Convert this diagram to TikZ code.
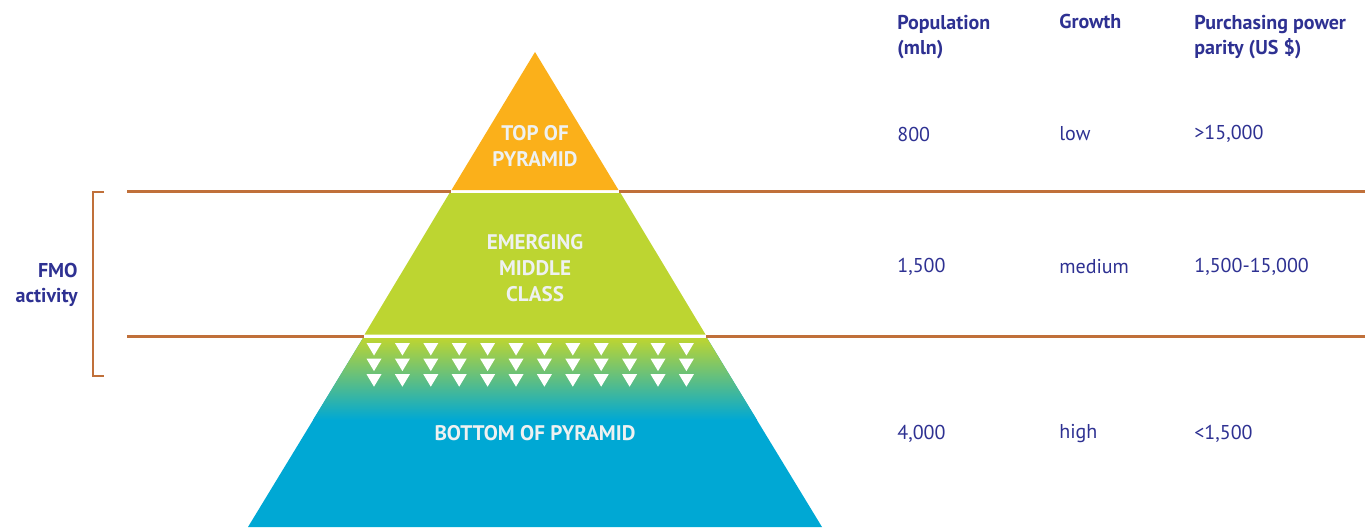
\documentclass[tikz,border=0pt]{standalone}
\usepackage{fontspec}
\setmainfont{PT Sans}
\definecolor{navy}{HTML}{2E3192}
\definecolor{rust}{HTML}{C0703A}
\definecolor{topcol}{HTML}{FBB01A}
\definecolor{midcol}{HTML}{BDD531}
\definecolor{tealcol}{HTML}{00B2A9}
\definecolor{botcol}{HTML}{00A8D4}
\definecolor{paleword}{HTML}{EEF1F1}
\tikzset{
  hdr/.style={anchor=west,align=left,text=navy,font=\fontsize{11.4}{14.2}\selectfont\bfseries,inner sep=0pt},
  val/.style={anchor=west,text=navy,font=\fontsize{11.4}{14}\selectfont,inner sep=0pt},
  lvl/.style={align=center,text=paleword,font=\fontsize{12}{14.6}\selectfont\bfseries,inner sep=0pt},
  band/.style={rust,line width=1.3pt}
}
\begin{document}
\begin{tikzpicture}[x=0.02cm,y=-0.02cm]
        \useasboundingbox (0,0) rectangle (1368,527);
        % pyramid slices
        \fill[topcol] (535,52) -- (451.5,190) -- (618.5,190) -- cycle;
        \fill[midcol] (449.5,193) -- (620.5,193) -- (705.5,334.5) -- (364.5,334.5) -- cycle;
        \fill[botcol] (363,338) -- (707,338) -- (822,527) -- (248,527) -- cycle;
        \shade[top color=midcol,middle color=tealcol,bottom color=botcol]
            (363,338) -- (707,338) -- (757,420) -- (313,420) -- cycle;
        \foreach \i in {0,...,11}
          \foreach \j in {0,1,2}
            \fill[white] (366.5+28.4*\i,343+15.6*\j) -- ++(15,0) -- ++(-7.5,12.5) -- cycle;
        % band lines and bracket
        \coordinate (ua) at (127,191.5);
        \coordinate (ub) at (451,191.5);
        \coordinate (uc) at (619,191.5);
        \coordinate (ud) at (1365,191.5);
        \coordinate (la) at (127,336.5);
        \coordinate (lb) at (364,336.5);
        \coordinate (lc) at (706,336.5);
        \coordinate (ld) at (1365,336.5);
        \draw[band] (ua) -- (ub) (uc) -- (ud) (la) -- (lb) (lc) -- (ld);
        \draw[band] (104,192) -- (93,192) -- (93,376) -- (104,376);
        \node[align=right,anchor=east,text=navy,font=\fontsize{11.4}{14.2}\selectfont\bfseries,inner sep=0pt] (fmo) at (78,285) {FMO\\activity};
        % level names
        \node[lvl] (top) at (535,146) {TOP OF\\PYRAMID};
        \node[lvl] (mid) at (535,268) {EMERGING\\MIDDLE\\CLASS};
        \node[lvl] (bot) at (535,433) {BOTTOM OF PYRAMID};
        % table
        \node[hdr] (hpop) at (897,37) {Population\\(mln)};
        \node[hdr,anchor=north west] (hgro) at (1059,14) {Growth};
        \node[hdr] (hppp) at (1194,37) {Purchasing power\\parity (US \$)};
        \node[val] (p1) at (897,134) {800};
        \node[val] (g1) at (1059,134) {low};
        \node[val] (c1) at (1194,134) {>15,000};
        \node[val] (p2) at (897,267) {1,500};
        \node[val] (g2) at (1059,267) {medium};
        \node[val] (c2) at (1194,267) {1,500-15,000};
        \node[val] (p3) at (897,434) {4,000};
        \node[val] (g3) at (1059,434) {high};
        \node[val] (c3) at (1194,434) {<1,500};
    \end{tikzpicture}
\end{document}
